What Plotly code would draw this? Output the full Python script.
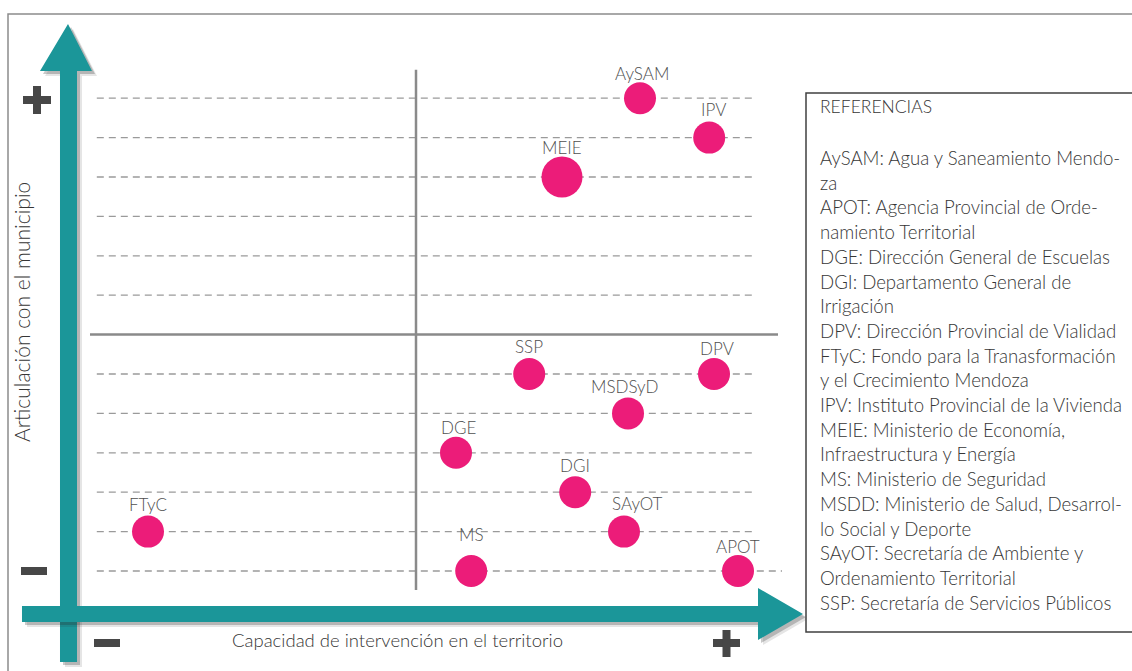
import plotly.graph_objects as go

# ---------------- data ----------------
names = ["AySAM", "IPV", "MEIE", "SSP", "DPV", "MSDSyD", "DGE", "DGI", "FTyC", "SAyOT", "MS", "APOT"]
capacidad = [5.6, 7.33, 3.65, 2.83, 7.45, 5.3, 1.0, 3.98, -6.7, 5.2, 1.38, 8.05]
articulacion = [12, 11, 10, 5, 5, 4, 3, 2, 1, 1, 0, 0]
peso = [32, 32, 41, 32, 32, 32, 32, 32, 32, 32, 32, 32]

grid_levels = [0, 1, 2, 3, 4, 5, 7, 8, 9, 10, 11, 12]
mid_level = 6

legend_title = "REFERENCIAS"
legend_lines = [
    "AySAM: Agua y Saneamiento Mendo-",
    "za",
    "APOT: Agencia Provincial de Orde-",
    "namiento Territorial",
    "DGE: Dirección General de Escuelas",
    "DGI: Departamento General de",
    "Irrigación",
    "DPV: Dirección Provincial de Vialidad",
    "FTyC: Fondo para la Tranasformación",
    "y el Crecimiento Mendoza",
    "IPV: Instituto Provincial de la Vivienda",
    "MEIE: Ministerio de Economía,",
    "Infraestructura y Energía",
    "MS: Ministerio de Seguridad",
    "MSDD: Ministerio de Salud, Desarrol-",
    "lo Social y Deporte",
    "SAyOT: Secretaría de Ambiente y",
    "Ordenamiento Territorial",
    "SSP: Secretaría de Servicios Públicos",
]
x_title = "Capacidad de intervención en el territorio"
y_title = "Articulación con el municipio"

# ---------------- styling / layout helpers ----------------
W, H = 1132, 671
X0PX, XSTEP = 416, 40.0
Y0PX, YSTEP = 571, 39.4
x_range = [(0 - X0PX) / XSTEP, (W - X0PX) / XSTEP]
y_range = [(Y0PX - H) / YSTEP, Y0PX / YSTEP]

def px(x):
    return x / W

def py(y):
    return 1 - y / H

def path(points):
    return "M " + " L ".join(f"{px(a):.5f},{py(b):.5f}" for a, b in points) + " Z"

label_dy = [25, 28, 30, 28, 26, 27, 25, 27, 27, 28, 37, 25]
label_dx = [2, 4, 0, 0, 3, -4, 2, 0, 0, 13, 0, 0]

TEAL = "#1b9699"
PINK = "#ec1c79"
DARK = "#474747"
TXT = "#4f4f4f"
TXT2 = "#363636"
FONT = "Lato"
WEIGHT = 300

fig = go.Figure()

fig.add_trace(go.Scatter(
    x=capacidad, y=articulacion, mode="markers",
    marker=dict(size=peso, color=PINK, line=dict(width=0), opacity=1),
    hoverinfo="text", text=names, showlegend=False,
))

shapes = []
# outer frame
shapes.append(dict(type="rect", xref="paper", yref="paper", x0=px(8), y0=py(14), x1=px(1140), y1=py(690),
                   line=dict(color="#8c8c8c", width=1.5), layer="below"))

# dashed grid lines
for lv in grid_levels:
    x1 = 9.15 if lv == 0 else 8.5
    shapes.append(dict(type="line", xref="x", yref="y", x0=-7.98, x1=x1, y0=lv, y1=lv,
                       line=dict(color="#9a9a9a", width=1.3, dash="7px,5px"), layer="below"))
# solid cross lines
shapes.append(dict(type="line", xref="x", yref="y", x0=-8.15, x1=9.05, y0=mid_level, y1=mid_level,
                   line=dict(color="#8a8a8a", width=2.5), layer="below"))
shapes.append(dict(type="line", xref="x", yref="y", x0=0, x1=0, y0=-0.48, y1=12.72,
                   line=dict(color="#8a8a8a", width=2.5), layer="below"))

# arrows (with soft shadow)
v_arrow = [(60, 662), (60, 71), (40, 71), (68, 24), (92, 71), (77, 71), (77, 662)]
h_arrow = [(22, 606), (758, 606), (758, 588), (803, 614), (758, 640), (758, 622), (22, 622)]
for arr in (v_arrow, h_arrow):
    for off, op in ((5, 0.12), (3, 0.25)):
        shapes.append(dict(type="path", xref="paper", yref="paper",
                           path=path([(a + off, b + off) for a, b in arr]),
                           fillcolor=f"rgba(40,40,40,{op})", line=dict(width=0), layer="above"))
    shapes.append(dict(type="path", xref="paper", yref="paper", path=path(arr),
                       fillcolor=TEAL, line=dict(width=0), layer="above"))

# plus / minus marks
def bar(x0, y0, x1, y1):
    return dict(type="rect", xref="paper", yref="paper", x0=px(x0), x1=px(x1), y0=py(y0), y1=py(y1),
                fillcolor=DARK, line=dict(width=0), layer="above")
shapes += [bar(23, 96, 51, 104), bar(33, 86, 41, 114)]      # top-left plus
shapes.append(bar(21, 567, 47, 575))                           # left minus
shapes.append(bar(94, 639, 120, 647))                          # bottom minus
shapes += [bar(713, 639, 740, 647), bar(722.5, 630, 730.5, 657)]  # bottom plus

# legend box
shapes.append(dict(type="rect", xref="paper", yref="paper", x0=px(806), y0=py(93), x1=px(1145), y1=py(632),
                   line=dict(color="#404040", width=1.5), fillcolor="white", layer="above"))

annotations = []
for n, xv, yv, dy, dx in zip(names, capacidad, articulacion, label_dy, label_dx):
    annotations.append(dict(x=xv, y=yv, xref="x", yref="y", text=n, showarrow=False,
                            xshift=dx, yshift=dy, font=dict(family=FONT, size=17, color=TXT, weight=WEIGHT)))

annotations.append(dict(x=px(818), y=py(107), xref="paper", yref="paper", text=legend_title,
                        showarrow=False, xanchor="left", yanchor="middle",
                        font=dict(family=FONT, size=17.5, color=TXT2, weight=WEIGHT)))
for i, line in enumerate(legend_lines):
    annotations.append(dict(x=px(818), y=py(158 + i * 24.7), xref="paper", yref="paper", text=line,
                            showarrow=False, xanchor="left", yanchor="middle",
                            font=dict(family=FONT, size=18.6, color=TXT2, weight=WEIGHT)))

annotations.append(dict(x=px(397), y=py(640), xref="paper", yref="paper", text=x_title, showarrow=False,
                        xanchor="center", yanchor="middle",
                        font=dict(family=FONT, size=18.5, color=TXT2, weight=WEIGHT)))
annotations.append(dict(x=px(22), y=py(312), xref="paper", yref="paper", text=y_title, showarrow=False,
                        textangle=-90, xanchor="center", yanchor="middle",
                        font=dict(family=FONT, size=21, color=TXT2, weight=WEIGHT)))

fig.update_layout(
    width=W, height=H,
    margin=dict(l=0, r=0, t=0, b=0),
    paper_bgcolor="white", plot_bgcolor="white",
    xaxis=dict(range=x_range, visible=False, fixedrange=True),
    yaxis=dict(range=y_range, visible=False, fixedrange=True),
    shapes=shapes, annotations=annotations,
    showlegend=False,
)

fig.write_html("out.html", config={"displayModeBar": False},
               post_script="document.body.style.margin='0';document.body.style.overflow='hidden';")
